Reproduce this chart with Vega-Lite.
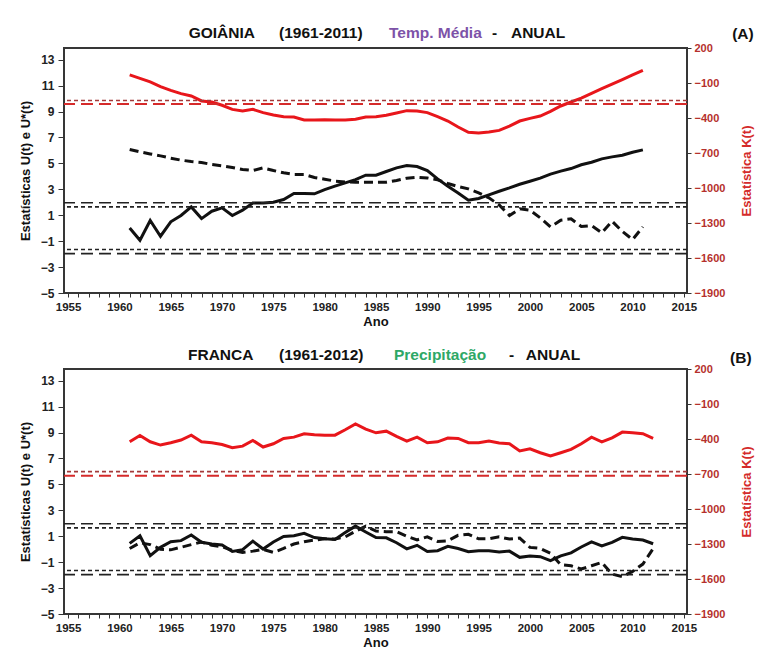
{
  "$schema": "https://vega.github.io/schema/vega-lite/v6.json",
  "background": "white",
  "padding": {"left": 18, "top": 24, "right": 2, "bottom": 2},
  "config": {
    "font": "Liberation Sans",
    "view": {"stroke": "#363636", "strokeWidth": 2},
    "axis": {"labelFontWeight": "bold", "titleFontWeight": "bold", "domain": false, "grid": false, "tickColor": "#333", "labelColor": "#222", "titleColor": "#111", "titleFont": "Liberation Sans", "labelFont": "Liberation Sans", "labelOverlap": false, "tickCount": 100},
    "axisX": {"labelOverlap": false, "labelFlush": false, "tickSize": 4, "labelPadding": 4, "labelFontSize": 11.5, "titleFontSize": 13, "titlePadding": 3},
    "axisLeft": {"labelOverlap": false, "labelFlush": false, "tickSize": 6, "labelPadding": 4, "labelFontSize": 12, "titleFontSize": 13, "titlePadding": 8},
    "axisRight": {"labelOverlap": false, "labelFlush": false, "tickSize": 4, "labelPadding": 3, "labelFontSize": 11, "titleFontSize": 13, "labelColor": "#b5302c", "titleColor": "#d42b2b"},
    "text": {"font": "Liberation Sans"}
  },
  "datasets": {
    "goiania": [
      {"year": 1961, "U": 0.02, "Ustar": 6.07, "K": -31},
      {"year": 1962, "U": -0.93, "Ustar": 5.89, "K": -60},
      {"year": 1963, "U": 0.59, "Ustar": 5.73, "K": -91},
      {"year": 1964, "U": -0.62, "Ustar": 5.58, "K": -131},
      {"year": 1965, "U": 0.49, "Ustar": 5.40, "K": -163},
      {"year": 1966, "U": 0.98, "Ustar": 5.25, "K": -191},
      {"year": 1967, "U": 1.64, "Ustar": 5.14, "K": -211},
      {"year": 1968, "U": 0.74, "Ustar": 5.07, "K": -254},
      {"year": 1969, "U": 1.31, "Ustar": 4.91, "K": -263},
      {"year": 1970, "U": 1.57, "Ustar": 4.81, "K": -291},
      {"year": 1971, "U": 0.98, "Ustar": 4.68, "K": -326},
      {"year": 1972, "U": 1.39, "Ustar": 4.53, "K": -340},
      {"year": 1973, "U": 1.95, "Ustar": 4.45, "K": -326},
      {"year": 1974, "U": 1.95, "Ustar": 4.65, "K": -354},
      {"year": 1975, "U": 2.00, "Ustar": 4.45, "K": -374},
      {"year": 1976, "U": 2.21, "Ustar": 4.27, "K": -389},
      {"year": 1977, "U": 2.67, "Ustar": 4.14, "K": -391},
      {"year": 1978, "U": 2.67, "Ustar": 4.14, "K": -417},
      {"year": 1979, "U": 2.65, "Ustar": 3.91, "K": -417},
      {"year": 1980, "U": 2.98, "Ustar": 3.78, "K": -414},
      {"year": 1981, "U": 3.24, "Ustar": 3.63, "K": -417},
      {"year": 1982, "U": 3.50, "Ustar": 3.57, "K": -417},
      {"year": 1983, "U": 3.75, "Ustar": 3.55, "K": -411},
      {"year": 1984, "U": 4.09, "Ustar": 3.55, "K": -391},
      {"year": 1985, "U": 4.09, "Ustar": 3.55, "K": -389},
      {"year": 1986, "U": 4.37, "Ustar": 3.55, "K": -377},
      {"year": 1987, "U": 4.65, "Ustar": 3.68, "K": -357},
      {"year": 1988, "U": 4.83, "Ustar": 3.86, "K": -337},
      {"year": 1989, "U": 4.76, "Ustar": 3.93, "K": -340},
      {"year": 1990, "U": 4.45, "Ustar": 3.88, "K": -354},
      {"year": 1991, "U": 3.80, "Ustar": 3.73, "K": -389},
      {"year": 1992, "U": 3.24, "Ustar": 3.45, "K": -426},
      {"year": 1993, "U": 2.72, "Ustar": 3.21, "K": -477},
      {"year": 1994, "U": 2.16, "Ustar": 3.03, "K": -523},
      {"year": 1995, "U": 2.29, "Ustar": 2.72, "K": -529},
      {"year": 1996, "U": 2.57, "Ustar": 2.34, "K": -520},
      {"year": 1997, "U": 2.85, "Ustar": 1.79, "K": -506},
      {"year": 1998, "U": 3.11, "Ustar": 0.98, "K": -469},
      {"year": 1999, "U": 3.39, "Ustar": 1.49, "K": -426},
      {"year": 2000, "U": 3.62, "Ustar": 1.39, "K": -403},
      {"year": 2001, "U": 3.86, "Ustar": 0.80, "K": -383},
      {"year": 2002, "U": 4.17, "Ustar": 0.10, "K": -343},
      {"year": 2003, "U": 4.40, "Ustar": 0.62, "K": -297},
      {"year": 2004, "U": 4.60, "Ustar": 0.72, "K": -263},
      {"year": 2005, "U": 4.89, "Ustar": 0.13, "K": -229},
      {"year": 2006, "U": 5.09, "Ustar": 0.20, "K": -189},
      {"year": 2007, "U": 5.35, "Ustar": -0.35, "K": -149},
      {"year": 2008, "U": 5.50, "Ustar": 0.54, "K": -109},
      {"year": 2009, "U": 5.63, "Ustar": -0.25, "K": -71},
      {"year": 2010, "U": 5.86, "Ustar": -0.88, "K": -31},
      {"year": 2011, "U": 6.04, "Ustar": 0.10, "K": 9}
    ],
    "franca": [
      {"year": 1961, "U": 0.45, "Ustar": 0.05, "K": -424},
      {"year": 1962, "U": 1.04, "Ustar": 0.50, "K": -370},
      {"year": 1963, "U": -0.50, "Ustar": 0.35, "K": -424},
      {"year": 1964, "U": 0.14, "Ustar": 0.00, "K": -452},
      {"year": 1965, "U": 0.58, "Ustar": -0.05, "K": -432},
      {"year": 1966, "U": 0.66, "Ustar": 0.15, "K": -409},
      {"year": 1967, "U": 1.09, "Ustar": 0.35, "K": -367},
      {"year": 1968, "U": 0.53, "Ustar": 0.55, "K": -424},
      {"year": 1969, "U": 0.40, "Ustar": 0.30, "K": -432},
      {"year": 1970, "U": 0.32, "Ustar": 0.20, "K": -447},
      {"year": 1971, "U": -0.17, "Ustar": -0.10, "K": -475},
      {"year": 1972, "U": -0.04, "Ustar": -0.25, "K": -461},
      {"year": 1973, "U": 0.62, "Ustar": -0.15, "K": -412},
      {"year": 1974, "U": 0.01, "Ustar": -0.02, "K": -469},
      {"year": 1975, "U": 0.55, "Ustar": -0.25, "K": -441},
      {"year": 1976, "U": 0.98, "Ustar": 0.06, "K": -395},
      {"year": 1977, "U": 1.04, "Ustar": 0.40, "K": -384},
      {"year": 1978, "U": 1.23, "Ustar": 0.58, "K": -355},
      {"year": 1979, "U": 0.90, "Ustar": 0.70, "K": -364},
      {"year": 1980, "U": 0.80, "Ustar": 0.80, "K": -367},
      {"year": 1981, "U": 0.75, "Ustar": 0.78, "K": -367},
      {"year": 1982, "U": 1.28, "Ustar": 0.95, "K": -321},
      {"year": 1983, "U": 1.78, "Ustar": 1.38, "K": -270},
      {"year": 1984, "U": 1.33, "Ustar": 1.78, "K": -315},
      {"year": 1985, "U": 0.90, "Ustar": 1.40, "K": -347},
      {"year": 1986, "U": 0.88, "Ustar": 1.35, "K": -333},
      {"year": 1987, "U": 0.50, "Ustar": 1.35, "K": -378},
      {"year": 1988, "U": 0.03, "Ustar": 1.00, "K": -418},
      {"year": 1989, "U": 0.30, "Ustar": 0.72, "K": -384},
      {"year": 1990, "U": -0.18, "Ustar": 0.95, "K": -432},
      {"year": 1991, "U": -0.12, "Ustar": 0.60, "K": -424},
      {"year": 1992, "U": 0.22, "Ustar": 0.65, "K": -392},
      {"year": 1993, "U": 0.05, "Ustar": 1.07, "K": -395},
      {"year": 1994, "U": -0.20, "Ustar": 1.15, "K": -432},
      {"year": 1995, "U": -0.12, "Ustar": 0.80, "K": -432},
      {"year": 1996, "U": -0.12, "Ustar": 0.80, "K": -418},
      {"year": 1997, "U": -0.22, "Ustar": 0.95, "K": -435},
      {"year": 1998, "U": -0.15, "Ustar": 0.78, "K": -441},
      {"year": 1999, "U": -0.63, "Ustar": 0.86, "K": -503},
      {"year": 2000, "U": -0.52, "Ustar": 0.14, "K": -484},
      {"year": 2001, "U": -0.58, "Ustar": 0.06, "K": -518},
      {"year": 2002, "U": -0.89, "Ustar": -0.32, "K": -546},
      {"year": 2003, "U": -0.52, "Ustar": -1.20, "K": -518},
      {"year": 2004, "U": -0.28, "Ustar": -1.28, "K": -489},
      {"year": 2005, "U": 0.17, "Ustar": -1.53, "K": -441},
      {"year": 2006, "U": 0.56, "Ustar": -1.28, "K": -384},
      {"year": 2007, "U": 0.25, "Ustar": -1.02, "K": -424},
      {"year": 2008, "U": 0.53, "Ustar": -1.92, "K": -390},
      {"year": 2009, "U": 0.91, "Ustar": -2.12, "K": -341},
      {"year": 2010, "U": 0.78, "Ustar": -1.71, "K": -347},
      {"year": 2011, "U": 0.71, "Ustar": -1.15, "K": -355},
      {"year": 2012, "U": 0.42, "Ustar": 0.05, "K": -395}
    ],
    "crit": [
      {"panel": "A", "stat": "U", "kind": "long", "level": 1.96},
      {"panel": "A", "stat": "U", "kind": "long", "level": -1.96},
      {"panel": "A", "stat": "U", "kind": "short", "level": 1.645},
      {"panel": "A", "stat": "U", "kind": "short", "level": -1.645},
      {"panel": "A", "stat": "K", "kind": "short", "level": -250},
      {"panel": "A", "stat": "K", "kind": "long", "level": -280},
      {"panel": "B", "stat": "U", "kind": "long", "level": 1.96},
      {"panel": "B", "stat": "U", "kind": "long", "level": -1.96},
      {"panel": "B", "stat": "U", "kind": "short", "level": 1.645},
      {"panel": "B", "stat": "U", "kind": "short", "level": -1.645},
      {"panel": "B", "stat": "K", "kind": "short", "level": -680},
      {"panel": "B", "stat": "K", "kind": "long", "level": -715}
    ]
  },
  "spacing": 76,
  "bounds": "flush",
  "vconcat": [
    {
      "width": 623,
      "height": 245,
      "data": {"name": "goiania"},
      "resolve": {"scale": {"y": "independent"}},
      "layer": [
        {
          "layer": [
            {
              "mark": {"type": "line", "color": "#111", "strokeWidth": 3},
              "encoding": {
                "x": {"field": "year", "type": "quantitative", "scale": {"domain": [1954.6, 2015.3], "nice": false, "zero": false},
                  "axis": {"values": [1955,1956,1957,1958,1959,1960,1961,1962,1963,1964,1965,1966,1967,1968,1969,1970,1971,1972,1973,1974,1975,1976,1977,1978,1979,1980,1981,1982,1983,1984,1985,1986,1987,1988,1989,1990,1991,1992,1993,1994,1995,1996,1997,1998,1999,2000,2001,2002,2003,2004,2005,2006,2007,2008,2009,2010,2011,2012,2013,2014,2015],
                    "tickCount": 100, "labelExpr": "datum.value % 5 === 0 ? datum.value + '' : ''", "labelOverlap": false, "labelFlush": false,
                    "title": "Ano"}},
                "y": {"field": "U", "type": "quantitative", "scale": {"domain": [-5, 13.9], "nice": false, "zero": false},
                  "axis": {"values": [-5,-3,-1,1,3,5,7,9,11,13], "format": "d", "tickCount": 100, "labelOverlap": false, "title": "Estatísticas U(t) e U*(t)"}}
              }
            },
            {
              "mark": {"type": "line", "color": "#111", "strokeWidth": 3, "strokeDash": [9, 5]},
              "encoding": {
                "x": {"field": "year", "type": "quantitative"},
                "y": {"field": "Ustar", "type": "quantitative", "scale": {"domain": [-5, 13.9], "nice": false, "zero": false}}
              }
            },
            {
              "data": {"name": "crit"},
              "transform": [{"filter": "datum.panel === 'A' && datum.stat === 'U' && datum.kind === 'long'"}],
              "mark": {"type": "rule", "color": "#222", "strokeWidth": 1.6, "strokeDash": [12, 6]},
              "encoding": {"y": {"field": "level", "type": "quantitative", "scale": {"domain": [-5, 13.9], "nice": false, "zero": false}}}
            },
            {
              "data": {"name": "crit"},
              "transform": [{"filter": "datum.panel === 'A' && datum.stat === 'U' && datum.kind === 'short'"}],
              "mark": {"type": "rule", "color": "#222", "strokeWidth": 1.6, "strokeDash": [4, 3]},
              "encoding": {"y": {"field": "level", "type": "quantitative", "scale": {"domain": [-5, 13.9], "nice": false, "zero": false}}}
            },
            {
              "data": {"values": [{"t": "GOIÂNIA"}]},
              "mark": {"type": "text", "align": "left", "baseline": "middle", "fontSize": 15.5, "fontWeight": "bold", "color": "#111"},
              "encoding": {"text": {"field": "t"}, "x": {"datum": 1966.75, "type": "quantitative"}, "y": {"datum": 15.06, "type": "quantitative"}}
            },
            {
              "data": {"values": [{"t": "(1961-2011)"}]},
              "mark": {"type": "text", "align": "left", "baseline": "middle", "fontSize": 15.5, "fontWeight": "bold", "color": "#111"},
              "encoding": {"text": {"field": "t"}, "x": {"datum": 1975.55, "type": "quantitative"}, "y": {"datum": 15.06, "type": "quantitative"}}
            },
            {
              "data": {"values": [{"t": "Temp. Média"}]},
              "mark": {"type": "text", "align": "left", "baseline": "middle", "fontSize": 15.5, "fontWeight": "bold", "color": "#7d52a8"},
              "encoding": {"text": {"field": "t"}, "x": {"datum": 1986.27, "type": "quantitative"}, "y": {"datum": 15.06, "type": "quantitative"}}
            },
            {
              "data": {"values": [{"t": "-"}]},
              "mark": {"type": "text", "align": "left", "baseline": "middle", "fontSize": 15.5, "fontWeight": "bold", "color": "#111"},
              "encoding": {"text": {"field": "t"}, "x": {"datum": 1996.3, "type": "quantitative"}, "y": {"datum": 15.06, "type": "quantitative"}}
            },
            {
              "data": {"values": [{"t": "ANUAL"}]},
              "mark": {"type": "text", "align": "left", "baseline": "middle", "fontSize": 15.5, "fontWeight": "bold", "color": "#111"},
              "encoding": {"text": {"field": "t"}, "x": {"datum": 1998.15, "type": "quantitative"}, "y": {"datum": 15.06, "type": "quantitative"}}
            },
            {
              "data": {"values": [{"t": "(A)"}]},
              "mark": {"type": "text", "align": "left", "baseline": "middle", "fontSize": 15.5, "fontWeight": "bold", "color": "#111"},
              "encoding": {"text": {"field": "t"}, "x": {"datum": 2019.7, "type": "quantitative"}, "y": {"datum": 14.98, "type": "quantitative"}}
            }
          ]
        },
        {
          "layer": [
            {
              "mark": {"type": "line", "color": "#e8161b", "strokeWidth": 3},
              "encoding": {
                "x": {"field": "year", "type": "quantitative"},
                "y": {"field": "K", "type": "quantitative", "scale": {"domain": [-1900, 200], "nice": false, "zero": false},
                  "axis": {"orient": "right", "values": [-1900,-1600,-1300,-1000,-700,-400,-100,200], "tickCount": 100, "format": "d", "labelOverlap": false, "title": "Estatística K(t)", "titleAngle": 270, "titleBaseline": "top", "titlePadding": 16}}
              }
            },
            {
              "data": {"name": "crit"},
              "transform": [{"filter": "datum.panel === 'A' && datum.stat === 'K' && datum.kind === 'short'"}],
              "mark": {"type": "rule", "color": "#a33a3a", "strokeWidth": 1.6, "strokeDash": [4, 3]},
              "encoding": {"y": {"field": "level", "type": "quantitative", "scale": {"domain": [-1900, 200], "nice": false, "zero": false}}}
            },
            {
              "data": {"name": "crit"},
              "transform": [{"filter": "datum.panel === 'A' && datum.stat === 'K' && datum.kind === 'long'"}],
              "mark": {"type": "rule", "color": "#d62a2a", "strokeWidth": 1.8, "strokeDash": [12, 6]},
              "encoding": {"y": {"field": "level", "type": "quantitative", "scale": {"domain": [-1900, 200], "nice": false, "zero": false}}}
            }
          ]
        }
      ]
    },
    {
      "width": 623,
      "height": 245,
      "data": {"name": "franca"},
      "resolve": {"scale": {"y": "independent"}},
      "layer": [
        {
          "layer": [
            {
              "mark": {"type": "line", "color": "#111", "strokeWidth": 3},
              "encoding": {
                "x": {"field": "year", "type": "quantitative", "scale": {"domain": [1954.6, 2015.3], "nice": false, "zero": false},
                  "axis": {"values": [1955,1956,1957,1958,1959,1960,1961,1962,1963,1964,1965,1966,1967,1968,1969,1970,1971,1972,1973,1974,1975,1976,1977,1978,1979,1980,1981,1982,1983,1984,1985,1986,1987,1988,1989,1990,1991,1992,1993,1994,1995,1996,1997,1998,1999,2000,2001,2002,2003,2004,2005,2006,2007,2008,2009,2010,2011,2012,2013,2014,2015],
                    "tickCount": 100, "labelExpr": "datum.value % 5 === 0 ? datum.value + '' : ''", "labelOverlap": false, "labelFlush": false,
                    "title": "Ano"}},
                "y": {"field": "U", "type": "quantitative", "scale": {"domain": [-5, 13.9], "nice": false, "zero": false},
                  "axis": {"values": [-5,-3,-1,1,3,5,7,9,11,13], "format": "d", "tickCount": 100, "labelOverlap": false, "title": "Estatísticas U(t) e U*(t)"}}
              }
            },
            {
              "mark": {"type": "line", "color": "#111", "strokeWidth": 3, "strokeDash": [9, 5]},
              "encoding": {
                "x": {"field": "year", "type": "quantitative"},
                "y": {"field": "Ustar", "type": "quantitative", "scale": {"domain": [-5, 13.9], "nice": false, "zero": false}}
              }
            },
            {
              "data": {"name": "crit"},
              "transform": [{"filter": "datum.panel === 'B' && datum.stat === 'U' && datum.kind === 'long'"}],
              "mark": {"type": "rule", "color": "#222", "strokeWidth": 1.6, "strokeDash": [12, 6]},
              "encoding": {"y": {"field": "level", "type": "quantitative", "scale": {"domain": [-5, 13.9], "nice": false, "zero": false}}}
            },
            {
              "data": {"name": "crit"},
              "transform": [{"filter": "datum.panel === 'B' && datum.stat === 'U' && datum.kind === 'short'"}],
              "mark": {"type": "rule", "color": "#222", "strokeWidth": 1.6, "strokeDash": [4, 3]},
              "encoding": {"y": {"field": "level", "type": "quantitative", "scale": {"domain": [-5, 13.9], "nice": false, "zero": false}}}
            },
            {
              "data": {"values": [{"t": "FRANCA"}]},
              "mark": {"type": "text", "align": "left", "baseline": "middle", "fontSize": 15.5, "fontWeight": "bold", "color": "#111"},
              "encoding": {"text": {"field": "t"}, "x": {"datum": 1966.68, "type": "quantitative"}, "y": {"datum": 14.98, "type": "quantitative"}}
            },
            {
              "data": {"values": [{"t": "(1961-2012)"}]},
              "mark": {"type": "text", "align": "left", "baseline": "middle", "fontSize": 15.5, "fontWeight": "bold", "color": "#111"},
              "encoding": {"text": {"field": "t"}, "x": {"datum": 1975.55, "type": "quantitative"}, "y": {"datum": 14.98, "type": "quantitative"}}
            },
            {
              "data": {"values": [{"t": "Precipitação"}]},
              "mark": {"type": "text", "align": "left", "baseline": "middle", "fontSize": 15.5, "fontWeight": "bold", "color": "#2ea866"},
              "encoding": {"text": {"field": "t"}, "x": {"datum": 1986.75, "type": "quantitative"}, "y": {"datum": 14.98, "type": "quantitative"}}
            },
            {
              "data": {"values": [{"t": "-"}]},
              "mark": {"type": "text", "align": "left", "baseline": "middle", "fontSize": 15.5, "fontWeight": "bold", "color": "#111"},
              "encoding": {"text": {"field": "t"}, "x": {"datum": 1997.96, "type": "quantitative"}, "y": {"datum": 14.98, "type": "quantitative"}}
            },
            {
              "data": {"values": [{"t": "ANUAL"}]},
              "mark": {"type": "text", "align": "left", "baseline": "middle", "fontSize": 15.5, "fontWeight": "bold", "color": "#111"},
              "encoding": {"text": {"field": "t"}, "x": {"datum": 1999.6, "type": "quantitative"}, "y": {"datum": 14.98, "type": "quantitative"}}
            },
            {
              "data": {"values": [{"t": "(B)"}]},
              "mark": {"type": "text", "align": "left", "baseline": "middle", "fontSize": 15.5, "fontWeight": "bold", "color": "#111"},
              "encoding": {"text": {"field": "t"}, "x": {"datum": 2019.5, "type": "quantitative"}, "y": {"datum": 14.75, "type": "quantitative"}}
            }
          ]
        },
        {
          "layer": [
            {
              "mark": {"type": "line", "color": "#e8161b", "strokeWidth": 3},
              "encoding": {
                "x": {"field": "year", "type": "quantitative"},
                "y": {"field": "K", "type": "quantitative", "scale": {"domain": [-1900, 200], "nice": false, "zero": false},
                  "axis": {"orient": "right", "values": [-1900,-1600,-1300,-1000,-700,-400,-100,200], "tickCount": 100, "format": "d", "labelOverlap": false, "title": "Estatística K(t)", "titleAngle": 270, "titleBaseline": "top", "titlePadding": 16}}
              }
            },
            {
              "data": {"name": "crit"},
              "transform": [{"filter": "datum.panel === 'B' && datum.stat === 'K' && datum.kind === 'short'"}],
              "mark": {"type": "rule", "color": "#a33a3a", "strokeWidth": 1.6, "strokeDash": [4, 3]},
              "encoding": {"y": {"field": "level", "type": "quantitative", "scale": {"domain": [-1900, 200], "nice": false, "zero": false}}}
            },
            {
              "data": {"name": "crit"},
              "transform": [{"filter": "datum.panel === 'B' && datum.stat === 'K' && datum.kind === 'long'"}],
              "mark": {"type": "rule", "color": "#d62a2a", "strokeWidth": 1.8, "strokeDash": [12, 6]},
              "encoding": {"y": {"field": "level", "type": "quantitative", "scale": {"domain": [-1900, 200], "nice": false, "zero": false}}}
            }
          ]
        }
      ]
    }
  ]
}
